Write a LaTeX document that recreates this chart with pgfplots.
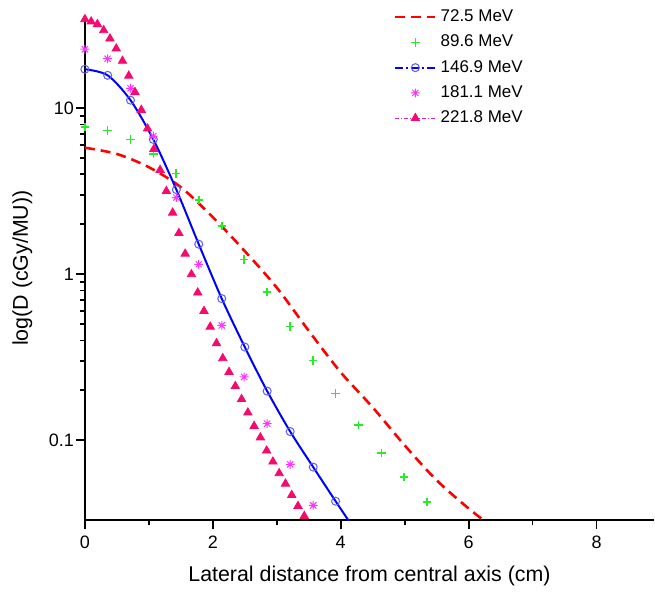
\documentclass[border=0pt]{standalone}
\usepackage{fontspec}
\setmainfont{Liberation Sans}
\usepackage{pgfplots}
\pgfplotsset{compat=1.18}

\definecolor{cRed}{RGB}{255,0,0}
\definecolor{cGreen}{RGB}{40,235,40}
\definecolor{cBlue}{RGB}{0,0,255}
\definecolor{cCirc}{RGB}{90,90,255}
\definecolor{cStar}{RGB}{255,50,255}
\definecolor{cTri}{RGB}{245,10,110}
\definecolor{cPurp}{RGB}{200,40,200}

\pgfdeclareplotmark{star8}{%
  \pgfpathmoveto{\pgfqpoint{-\pgfplotmarksize}{0pt}}\pgfpathlineto{\pgfqpoint{\pgfplotmarksize}{0pt}}%
  \pgfpathmoveto{\pgfqpoint{0pt}{-\pgfplotmarksize}}\pgfpathlineto{\pgfqpoint{0pt}{\pgfplotmarksize}}%
  \pgfpathmoveto{\pgfqpoint{-0.7071\pgfplotmarksize}{-0.7071\pgfplotmarksize}}%
  \pgfpathlineto{\pgfqpoint{0.7071\pgfplotmarksize}{0.7071\pgfplotmarksize}}%
  \pgfpathmoveto{\pgfqpoint{-0.7071\pgfplotmarksize}{0.7071\pgfplotmarksize}}%
  \pgfpathlineto{\pgfqpoint{0.7071\pgfplotmarksize}{-0.7071\pgfplotmarksize}}%
  \pgfusepathqstroke}

\begin{document}
\begin{tikzpicture}
\begin{axis}[
  width=285pt, height=252.5pt, scale only axis,
  xmin=0, xmax=8.9, ymin=0.033, ymax=36,
  ymode=log,
  axis lines*=left,
  axis line style={line width=0.9pt},
  tick style={line width=0.9pt, black},
  tick align=outside,
  major tick length=4.5pt, minor tick length=2.5pt,
  xtick={0,2,4,6,8}, minor xtick={1,3,5,7},
  ytick={0.1,1,10}, yticklabels={0.1,1,10},
  tick label style={font=\fontsize{9}{10}\selectfont},
  yticklabel style={xshift=2.5pt},
  /pgf/number format/assume math mode=true,
  xlabel={Lateral distance from central axis (cm)},
  ylabel={log(D (cGy/MU))},
  label style={font=\fontsize{10.7}{12}\selectfont},
  xlabel style={at={([yshift=-30.5pt]axis description cs:0.5,0)}, anchor=base, inner sep=0pt},
  ylabel style={at={([xshift=-28.5pt]axis description cs:0,0.5)}, anchor=base, inner sep=0pt},
  clip mode=individual,
  legend style={draw=none, fill=none, at={(rel axis cs:0.539,1.025)}, anchor=north west,
    font=\fontsize{8.5}{10}\selectfont, row sep=1.2pt, inner sep=1pt},
  legend cell align=left,
]

% 72.5 MeV
\addplot[cRed, line width=1.3pt, dash pattern=on 5pt off 3pt, smooth, no marks,
  legend image code/.code={\draw[cRed, line width=1.3pt, dash pattern=on 5pt off 3pt] (0pt,0pt) -- (20pt,0pt);}]
coordinates {
(0,5.79) (0.5,5.31) (1.0,4.42) (1.5,3.35) (2.0,2.21) (2.5,1.38) (3.0,0.832)
(3.5,0.457) (4.0,0.257) (4.5,0.158) (5.0,0.0933) (5.5,0.0575) (6.0,0.0389) (6.5,0.0275)
};
\addlegendentry{72.5 MeV}

% 89.6 MeV
\addplot[only marks, cGreen, mark=+, mark size=2.1pt, mark options={line width=0.8pt},
  legend image code/.code={\draw[cGreen, mark=+, mark size=2.1pt, mark options={line width=0.8pt}] plot coordinates {(10pt,0pt)};}]
coordinates {
(0,7.7) (0.354,7.36) (0.714,6.5) (1.07,5.29) (1.42,4.04) (1.78,2.81) (2.14,1.95)
(2.49,1.23) (2.85,0.78) (3.21,0.485) (3.57,0.302) (3.92,0.192) (4.28,0.124)
(4.64,0.0836) (4.99,0.0604) (5.35,0.0425)
};
\addlegendentry{89.6 MeV}

% 146.9 MeV line
\addplot[cBlue, line width=1pt, smooth, no marks, forget plot]
coordinates {
(0,17.2) (0.356,15.8) (0.713,11.2) (1.07,6.5) (1.43,3.24) (1.78,1.52) (2.14,0.714)
(2.50,0.365) (2.85,0.198) (3.21,0.113) (3.57,0.069) (3.92,0.043) (4.30,0.026)
};
% 146.9 MeV marks
\addplot[only marks, cCirc, mark=o, mark size=2pt, mark options={line width=0.5pt},
  legend image code/.code={\draw[cBlue, line width=1pt, dash pattern=on 4pt off 1.5pt on 1pt off 1.5pt] (0pt,0pt) -- (20pt,0pt);
    \draw[cCirc, mark=o, mark size=2pt, mark options={line width=0.5pt}] plot coordinates {(10pt,0pt)};}]
coordinates {
(0,17.2) (0.356,15.8) (0.713,11.2) (1.07,6.5) (1.43,3.24) (1.78,1.52) (2.14,0.714)
(2.50,0.365) (2.85,0.198) (3.21,0.113) (3.57,0.069) (3.92,0.043)
};
\addlegendentry{146.9 MeV}

% 181.1 MeV
\addplot[only marks, cStar, mark=star8, mark size=2.2pt, mark options={line width=0.5pt},
  legend image code/.code={\draw[cStar, mark=star8, mark size=2.2pt, mark options={line width=0.5pt}] plot coordinates {(10pt,0pt)};}]
coordinates {
(0,22.7) (0.354,19.9) (0.714,13.2) (1.07,6.8) (1.43,2.9) (1.78,1.15) (2.14,0.493)
(2.49,0.241) (2.85,0.126) (3.21,0.0716) (3.57,0.0406)
};
\addlegendentry{181.1 MeV}

% 221.8 MeV
\addplot[only marks, cTri, mark=triangle*, mark size=2.4pt, mark options={draw=cTri, fill=cTri},
  legend image code/.code={\draw[cPurp, line width=0.5pt, dash pattern=on 2pt off 1pt on 0.5pt off 1pt] (0pt,0pt) -- (20pt,0pt);
    \draw[cTri, mark=triangle*, mark size=2.4pt, mark options={draw=cTri, fill=cTri}] plot coordinates {(10pt,0pt)};}]
coordinates {
(0,34.4) (0.098,33.3) (0.196,32.1) (0.294,29.5) (0.392,26.3) (0.490,22.9)
(0.588,19.3) (0.686,15.7) (0.784,12.5) (0.882,9.77) (0.980,7.55) (1.078,5.68)
(1.176,4.25) (1.274,3.17) (1.372,2.35) (1.470,1.77) (1.568,1.33) (1.666,1.0)
(1.764,0.776) (1.862,0.601) (1.960,0.483) (2.058,0.384) (2.156,0.312) (2.254,0.258)
(2.352,0.212) (2.450,0.177) (2.548,0.147) (2.646,0.122) (2.744,0.104) (2.842,0.0867)
(2.940,0.0744) (3.038,0.0633) (3.136,0.0548) (3.234,0.0468) (3.332,0.0402) (3.430,0.035)
};
\addlegendentry{221.8 MeV}

\end{axis}
\path (current axis.south west) ++(-42.5pt,-36pt);
\path (current axis.north east) ++(0,8pt);
\end{tikzpicture}
\end{document}
